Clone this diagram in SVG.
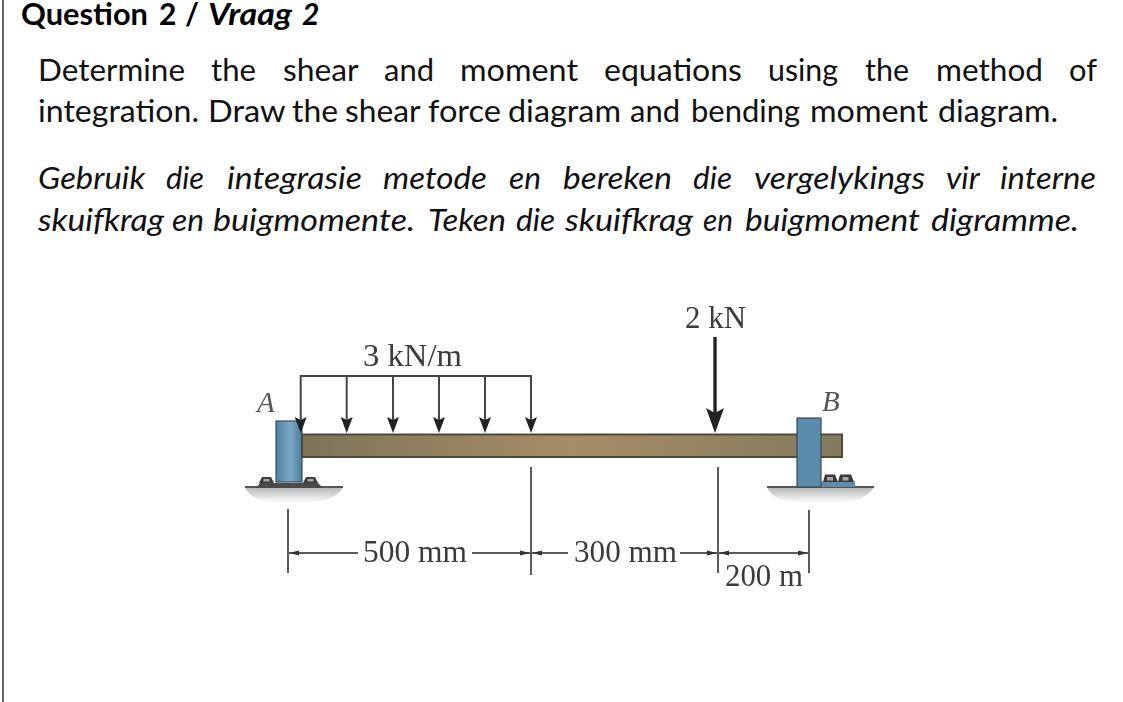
<svg xmlns="http://www.w3.org/2000/svg" width="1123" height="702" viewBox="0 0 1123 702">
<style>
.t{font-family:"Lato","Carlito","Noto Sans",sans-serif;font-size:30px;fill:#111}
.h{font-weight:700;fill:#000}
.i{font-style:italic}
.d{font-family:"Liberation Serif",serif;font-size:32px;fill:#3a3a3a}
.n{font-family:"Liberation Serif",serif;font-size:29px;font-style:italic;fill:#555}
.l{fill:none;stroke:#444;stroke-width:2}
.g{fill:none;stroke:#5c5c5c;stroke-width:2}
.bolt{fill:#3b3b3b}
.hole{fill:#a8a8a8}
</style>
<defs>
<linearGradient id="beam" x1="0" x2="1" y1="0" y2="0">
<stop offset="0" stop-color="#7e7459"/><stop offset="0.5" stop-color="#a68d66"/><stop offset="1" stop-color="#837a5e"/>
</linearGradient>
<linearGradient id="blue" x1="0" x2="1" y1="0" y2="0">
<stop offset="0" stop-color="#4f84a6"/><stop offset="0.55" stop-color="#7ba6c0"/><stop offset="1" stop-color="#4a7ea0"/>
</linearGradient>
<linearGradient id="shade" x1="0" x2="0" y1="0" y2="1">
<stop offset="0" stop-color="#b4b7b8"/><stop offset="1" stop-color="#ffffff"/>
</linearGradient>
<filter id="soft" x="-5%" y="-5%" width="110%" height="110%"><feGaussianBlur stdDeviation="0.75"/></filter>
</defs>
<rect width="1123" height="702" fill="#fff"/>
<line x1="3" y1="0" x2="3" y2="702" stroke="#666" stroke-width="2"/>

<g id="title">
<text class="t h" y="25"><tspan x="21" textLength="127" lengthAdjust="spacingAndGlyphs">Question</tspan> <tspan x="159">2</tspan> <tspan x="185">/</tspan> <tspan x="208" class="i" textLength="84" lengthAdjust="spacingAndGlyphs">Vraag</tspan> <tspan x="302" class="i">2</tspan></text>
</g>
<g id="english">
<text class="t" y="81"><tspan x="38" textLength="147" lengthAdjust="spacingAndGlyphs">Determine</tspan> <tspan x="211" textLength="45" lengthAdjust="spacingAndGlyphs">the</tspan> <tspan x="283" textLength="75" lengthAdjust="spacingAndGlyphs">shear</tspan> <tspan x="384" textLength="50" lengthAdjust="spacingAndGlyphs">and</tspan> <tspan x="460" textLength="118" lengthAdjust="spacingAndGlyphs">moment</tspan> <tspan x="604" textLength="138" lengthAdjust="spacingAndGlyphs">equations</tspan> <tspan x="768" textLength="70" lengthAdjust="spacingAndGlyphs">using</tspan> <tspan x="865" textLength="44" lengthAdjust="spacingAndGlyphs">the</tspan> <tspan x="936" textLength="107" lengthAdjust="spacingAndGlyphs">method</tspan> <tspan x="1069" textLength="28" lengthAdjust="spacingAndGlyphs">of</tspan></text>
<text class="t" y="122"><tspan x="38" textLength="161" lengthAdjust="spacingAndGlyphs">integration.</tspan> <tspan x="208" textLength="77" lengthAdjust="spacingAndGlyphs">Draw</tspan> <tspan x="292" textLength="46" lengthAdjust="spacingAndGlyphs">the</tspan> <tspan x="345" textLength="75" lengthAdjust="spacingAndGlyphs">shear</tspan> <tspan x="428" textLength="73" lengthAdjust="spacingAndGlyphs">force</tspan> <tspan x="508" textLength="113" lengthAdjust="spacingAndGlyphs">diagram</tspan> <tspan x="630" textLength="50" lengthAdjust="spacingAndGlyphs">and</tspan> <tspan x="691" textLength="109" lengthAdjust="spacingAndGlyphs">bending</tspan> <tspan x="810" textLength="118" lengthAdjust="spacingAndGlyphs">moment</tspan> <tspan x="938" textLength="120" lengthAdjust="spacingAndGlyphs">diagram.</tspan></text>
</g>
<g id="afrikaans">
<text class="t i" y="189"><tspan x="38" textLength="107" lengthAdjust="spacingAndGlyphs">Gebruik</tspan> <tspan x="166" textLength="38" lengthAdjust="spacingAndGlyphs">die</tspan> <tspan x="227" textLength="135" lengthAdjust="spacingAndGlyphs">integrasie</tspan> <tspan x="383" textLength="104" lengthAdjust="spacingAndGlyphs">metode</tspan> <tspan x="509" textLength="32" lengthAdjust="spacingAndGlyphs">en</tspan> <tspan x="563" textLength="109" lengthAdjust="spacingAndGlyphs">bereken</tspan> <tspan x="693" textLength="39" lengthAdjust="spacingAndGlyphs">die</tspan> <tspan x="754" textLength="171" lengthAdjust="spacingAndGlyphs">vergelykings</tspan> <tspan x="946" textLength="33" lengthAdjust="spacingAndGlyphs">vir</tspan> <tspan x="1000" textLength="96" lengthAdjust="spacingAndGlyphs">interne</tspan></text>
<text class="t i" y="231"><tspan x="38" textLength="126" lengthAdjust="spacingAndGlyphs">skuifkrag</tspan> <tspan x="172" textLength="32" lengthAdjust="spacingAndGlyphs">en</tspan> <tspan x="213" textLength="202" lengthAdjust="spacingAndGlyphs">buigmomente.</tspan> <tspan x="428" textLength="78" lengthAdjust="spacingAndGlyphs">Teken</tspan> <tspan x="516" textLength="39" lengthAdjust="spacingAndGlyphs">die</tspan> <tspan x="565" textLength="128" lengthAdjust="spacingAndGlyphs">skuifkrag</tspan> <tspan x="703" textLength="30" lengthAdjust="spacingAndGlyphs">en</tspan> <tspan x="745" textLength="175" lengthAdjust="spacingAndGlyphs">buigmoment</tspan> <tspan x="931" textLength="148" lengthAdjust="spacingAndGlyphs">digramme.</tspan></text>
</g>

<g id="figure" filter="url(#soft)">
<g id="support-a">
<path d="M245 487 H343 Q336 502 305 503 H275 Q250 501 245 487 Z" fill="url(#shade)"/>
<line x1="245" y1="487" x2="343" y2="487" stroke="#555" stroke-width="2"/>
<path d="M256 488 L260 483 L318 483 L323 488 Z" fill="#4a4c4e"/>
<path class="bolt" d="M259 483 L262 477 H271 L274 483 Z"/>
<rect class="hole" x="263.500" y="479" width="6" height="2.500"/>
<path class="bolt" d="M303 483 L306 477 H315 L318 483 Z"/>
<rect class="hole" x="307.500" y="479" width="6" height="2.500"/>
<rect x="276" y="421" width="26" height="61" fill="url(#blue)" stroke="#3b4a55" stroke-width="1.2"/>
</g>
<g id="beam-body">
<rect x="302" y="434.500" width="540" height="22.500" fill="url(#beam)" stroke="#4f4a3c" stroke-width="2"/>
</g>
<g id="support-b">
<path d="M767 487 H874 Q866 502 835 503 H800 Q772 501 767 487 Z" fill="url(#shade)"/>
<line x1="767" y1="487" x2="874" y2="487" stroke="#555" stroke-width="2"/>
<rect x="821" y="481.500" width="34" height="5.500" fill="#5d8bab"/>
<path class="bolt" d="M823 482 L825 474.500 H835 L838 482 Z"/>
<rect class="hole" x="827" y="477" width="6" height="3.500"/>
<path class="bolt" d="M838 482 L840 474.500 H851 L854 482 Z"/>
<rect class="hole" x="842.500" y="477" width="6" height="3.500"/>
<rect x="797" y="418" width="24" height="69" fill="#5b8cac" stroke="#3b4a55" stroke-width="1.2"/>
</g>
<g id="connectors">
<g id="distributed-load">
<path class="l" d="M531 425 V376 H300.700 V425"/>
<path class="l" d="M346.700 376 V425 M393 376 V425 M439 376 V425 M485 376 V425"/>
<g fill="#222">
<path d="M294.700 417 L300.700 420 L306.700 417 L300.700 433 Z"/>
<path d="M340.700 417 L346.700 420 L352.700 417 L346.700 433 Z"/>
<path d="M387 417 L393 420 L399 417 L393 433 Z"/>
<path d="M433 417 L439 420 L445 417 L439 433 Z"/>
<path d="M479 417 L485 420 L491 417 L485 433 Z"/>
<path d="M525 417 L531 420 L537 417 L531 433 Z"/>
</g>
</g>
<g id="point-load">
<line x1="715" y1="337" x2="715" y2="415" stroke="#222" stroke-width="3.400"/>
<path d="M706 408 L715 413 L724 408 L715 433 Z" fill="#222"/>
</g>
<g id="dimensions">
<path class="g" d="M288 509 V573 M531 467 V575 M718 467 V573 M809 510 V573"/>
<path class="g" d="M288 553 H358 M472 553 H531 M531 553 H568 M680 553 H718 M718 553 H809"/>
<g fill="#333">
<path d="M289 553 L299 550.500 V555.500 Z"/>
<path d="M530 553 L520 550.500 V555.500 Z"/>
<path d="M532 553 L542 550.500 V555.500 Z"/>
<path d="M717 553 L707 550.500 V555.500 Z"/>
<path d="M719 553 L729 550.500 V555.500 Z"/>
<path d="M808 553 L798 550.500 V555.500 Z"/>
</g>
</g>
</g>
<g id="labels">
<text class="d" x="363" y="366" textLength="99" lengthAdjust="spacingAndGlyphs">3 kN/m</text>
<text class="d" x="685" y="328" textLength="61" lengthAdjust="spacingAndGlyphs">2 kN</text>
<text class="n" x="257" y="412">A</text>
<text class="n" x="822" y="411">B</text>
<text class="d" x="363" y="562" textLength="104" lengthAdjust="spacingAndGlyphs">500 mm</text>
<text class="d" x="574" y="562" textLength="103" lengthAdjust="spacingAndGlyphs">300 mm</text>
<text class="d" x="725" y="586" textLength="78" lengthAdjust="spacingAndGlyphs">200 m</text>
</g>
</g>
</svg>
